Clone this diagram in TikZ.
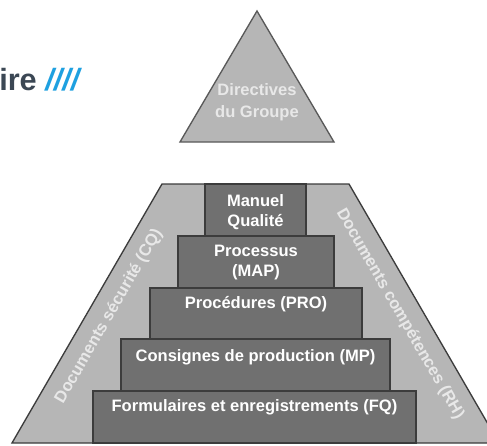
\documentclass[tikz,border=0pt]{standalone}
\usepackage{fontspec}
\setmainfont{Liberation Sans}
\definecolor{bandgray}{HTML}{B6B6B6}
\definecolor{stepgray}{HTML}{707070}
\definecolor{edgegray}{HTML}{3C3C3C}
\definecolor{lightlabel}{HTML}{E8E8E8}
\definecolor{titledark}{HTML}{3B4754}
\definecolor{titleblue}{HTML}{1EA0E0}
\tikzset{
  stepfill/.style={fill=stepgray, draw=edgegray, line width=1pt},
  steplabel/.style={text=white, font=\bfseries\fontsize{12.4}{15}\selectfont, align=center, inner sep=0pt},
  sidelabel/.style={text=lightlabel, font=\bfseries\fontsize{12.4}{15}\selectfont, inner sep=0pt}
}
\begin{document}
\begin{tikzpicture}[x=0.75pt,y=0.75pt,yscale=-1,xscale=1]
\clip (0, 0) rectangle (487, 446);
\fill [white] (0, 0) rectangle (487, 446);

% title rest
\node [anchor=base west, inner sep=0pt, font=\bfseries\fontsize{23}{27}\selectfont] (title) at (-1, 90)
  {\textcolor{titledark}{ire} \textcolor{titleblue}{\itshape ////}};

% group triangle
\draw [fill=bandgray, draw=edgegray!85, line width=1pt] (257, 11) -- (334, 142) -- (180, 142) -- cycle;
\node [steplabel, text=lightlabel, font=\bfseries\fontsize{12.4}{16.5}\selectfont] (directives) at (257, 102) {Directives\\du Groupe};

% side band
\draw [fill=bandgray, draw=edgegray, line width=1pt] (162, 184) -- (349, 184) -- (499, 443) -- (12, 443) -- cycle;

% steps
\draw [stepfill] (93, 391) rectangle (416, 443);
\draw [stepfill] (121, 339) rectangle (390, 391);
\draw [stepfill] (150, 288) rectangle (362, 339);
\draw [stepfill] (178, 236) rectangle (334, 288);
\draw [stepfill] (205, 184) rectangle (306, 236);

\node [steplabel] (manuel) at (255.5, 212) {Manuel\\Qualité};
\node [steplabel] (processus) at (256, 263) {Processus\\(MAP)};
\node [steplabel] (procedures) at (256, 304) {Procédures (PRO)};
\node [steplabel] (consignes) at (255.5, 357) {Consignes de production (MP)};
\node [steplabel] (formulaires) at (254.5, 407) {Formulaires et enregistrements (FQ)};

% side texts
\node [sidelabel, rotate=60] (securite) at (109, 316) {Documents sécurité (CQ)};
\node [sidelabel, rotate=-60] (competences) at (400, 314) {Documents compétences (RH)};

\end{tikzpicture}
\end{document}
